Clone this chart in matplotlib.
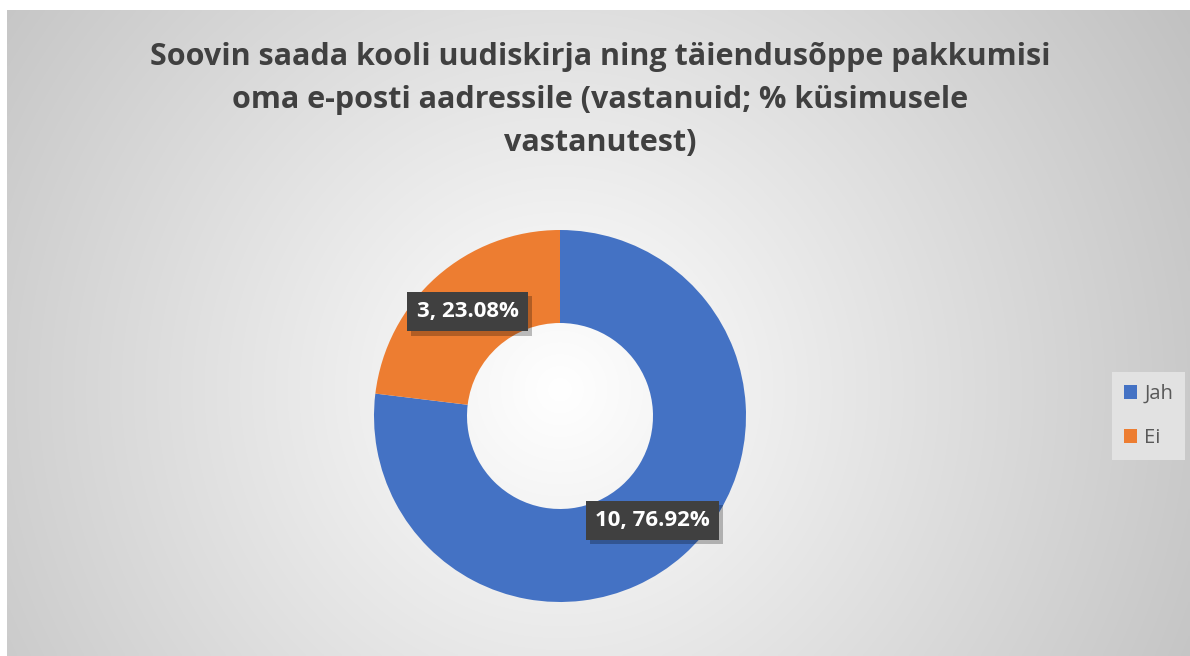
import numpy as np
import matplotlib.pyplot as plt
from matplotlib.patches import Patch
from matplotlib import patheffects

# Survey answers
categories = ['Jah', 'Ei']
counts = [10, 3]
colors = ['#4472C4', '#ED7D31']
title = ('Soovin saada kooli uudiskirja ning täiendusõppe pakkumisi\n'
         'oma e-posti aadressile (vastanuid; % küsimusele\n'
         'vastanutest)')

W, H = 1190, 656
fig = plt.figure(figsize=(W / 100, H / 100), dpi=100)
fig.patch.set_facecolor('white')

# radial grey background of the chart area
bg = fig.add_axes([7 / W, 0, 1 - 7 / W, 1 - 10 / H])
bg.set_axis_off()
xx, yy = np.meshgrid(np.linspace(7, W, 400), np.linspace(10, H, 240))
d = np.hypot(xx - 560, yy - 390)
shade = np.clip(255 - 56 * d / 665, 190, 255) / 255
bg.imshow(np.dstack([shade] * 3), aspect='auto', extent=[0, 1, 0, 1],
          interpolation='bilinear')

# donut
cx, cy, r = 560, 416, 186
ax = fig.add_axes([(cx - r) / W, (H - cy - r) / H, 2 * r / W, 2 * r / H])
ax.set_axis_off()
wedges, _ = ax.pie(counts, colors=colors, startangle=90, counterclock=False,
                   radius=1, wedgeprops=dict(width=0.5, edgecolor='white', linewidth=0))
ax.set_xlim(-1, 1)
ax.set_ylim(-1, 1)

total = sum(counts)
for w, n in zip(wedges, counts):
    ang = np.deg2rad((w.theta1 + w.theta2) / 2)
    x, y = 0.75 * np.cos(ang), 0.75 * np.sin(ang)
    label = f'{n}, {n / total * 100:.2f}%'
    t = ax.text(x, y, label, color='white', ha='center', va='center',
                fontsize=16, fontweight='bold', family='Open Sans',
                bbox=dict(boxstyle='square,pad=0.42', fc='#404040', ec='none'))
    t.get_bbox_patch().set_path_effects([
        patheffects.SimplePatchShadow(offset=(3, -3), shadow_rgbFace='black', alpha=0.25),
        patheffects.Normal()])

fig.text(600 / W, 1 - 100 / H, title, ha='center', va='center', fontsize=22,
         fontweight='bold', color='#404040', family='Open Sans', linespacing=1.55)

handles = [Patch(facecolor=c, label=l) for c, l in zip(colors, categories)]
leg = fig.legend(handles=handles, loc='upper left',
                 bbox_to_anchor=(1112 / W, 1 - 372 / H), borderaxespad=0,
                 frameon=True, fancybox=False, framealpha=1, facecolor='#e2e2e2',
                 edgecolor='none', prop=dict(family='Open Sans', size=14.5),
                 labelcolor='#595959', handlelength=0.65, handleheight=0.65,
                 handletextpad=0.35, labelspacing=1.2, borderpad=0.6)

fig.savefig('out.png', dpi=100)
